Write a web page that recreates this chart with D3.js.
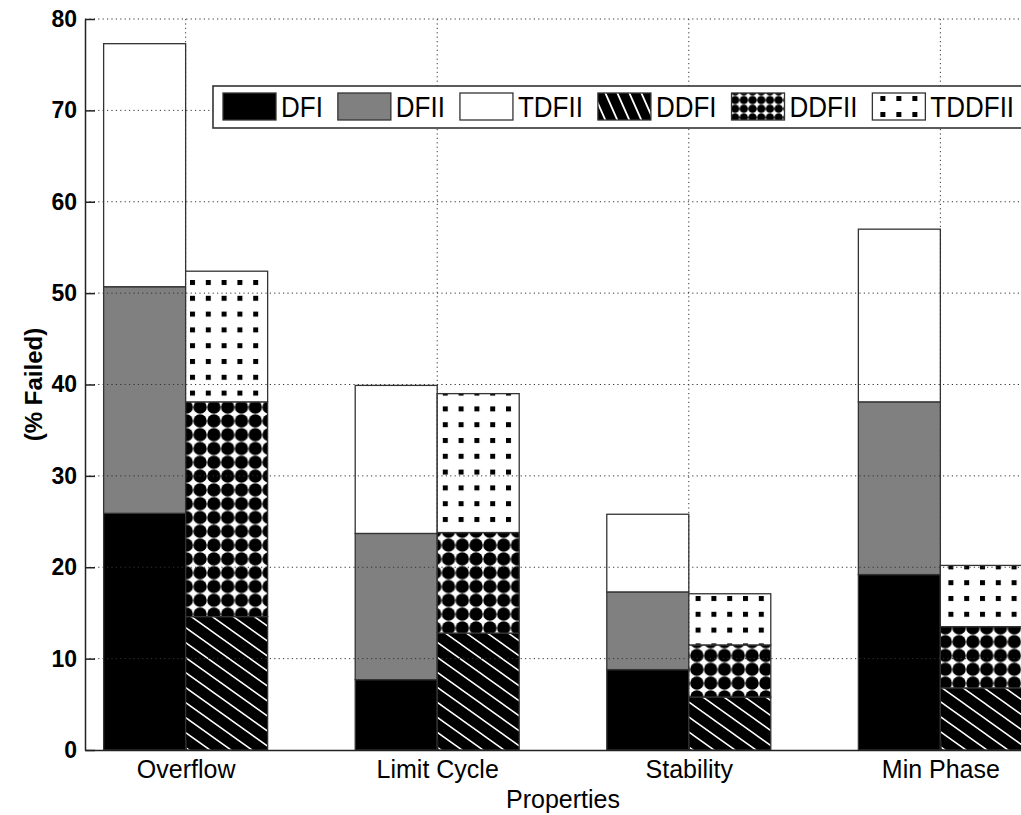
<!DOCTYPE html>
<html>
<head>
<meta charset="utf-8">
<script src="https://cdn.jsdelivr.net/npm/d3@7/dist/d3.min.js"></script>
<style>
  body { margin: 0; background: #fff; }
  svg { display: block; font-family: "Liberation Sans", Arial, Helvetica, sans-serif; }
</style>
</head>
<body>
<svg id="chart" width="1021" height="815"></svg>
<script>
// data
const categories = ["Overflow", "Limit Cycle", "Stability", "Min Phase"]
const seriesNames = ["DFI", "DFII", "TDFII", "DDFI", "DDFII", "TDDFII"]
const dfi    = [25.9, 7.7, 8.8, 19.2]
const dfii   = [24.8, 16.0, 8.5, 18.9]
const tdfii  = [26.6, 16.2, 8.5, 18.9]
const ddfi   = [14.6, 12.8, 5.8, 6.8]
const ddfii  = [23.5, 11.0, 5.7, 6.7]
const tddfii = [14.3, 15.2, 5.6, 6.7]
const yTicks = [0, 10, 20, 30, 40, 50, 60, 70, 80]

const rows = categories.map((c, i) => ({
    cat: c, DFI: dfi[i], DFII: dfii[i], TDFII: tdfii[i],
    DDFI: ddfi[i], DDFII: ddfii[i], TDDFII: tddfii[i]
}))

const svg = d3.select("#chart")
const defs = svg.append("defs")

// hatch patterns
function linePattern(id, w, h, sw) {
    const p = defs.append("pattern").attr("id", id)
        .attr("patternUnits", "userSpaceOnUse").attr("width", w).attr("height", h)
    p.append("rect").attr("width", w).attr("height", h).attr("fill", "#000")
    p.append("path")
        .attr("d", `M${-w},${-h}L${2 * w},${2 * h}M${-w},0L${w},${2 * h}M0,${-h}L${2 * w},${h}`)
        .attr("stroke", "#fff").attr("stroke-width", sw)
    return p
}
function dotPattern(id, s, r) {
    const p = defs.append("pattern").attr("id", id)
        .attr("patternUnits", "userSpaceOnUse").attr("width", s).attr("height", s)
    p.append("rect").attr("width", s).attr("height", s).attr("fill", "#fff")
    p.append("circle").attr("cx", s / 2).attr("cy", s / 2).attr("r", r).attr("fill", "#000")
    // small black joints where neighbouring dots meet
    p.append("rect").attr("x", s / 2 - 1).attr("y", -1).attr("width", 2).attr("height", s + 2).attr("fill", "none")
    return p
}
function squarePattern(id, s, q, ox, oy) {
    const p = defs.append("pattern").attr("id", id)
        .attr("patternUnits", "userSpaceOnUse").attr("width", s).attr("height", s)
        .attr("x", ox).attr("y", oy)
    p.append("rect").attr("width", s).attr("height", s).attr("fill", "#fff")
    p.append("rect").attr("width", q).attr("height", q).attr("fill", "#000")
    return p
}
linePattern("pDDFI", 21, 15, 1.5)
dotPattern("pDDFII", 13.8, 6.7)
squarePattern("pTDDFII", 15.8, 5, 190, 280)
linePattern("lDDFI", 12, 27, 1.8)
dotPattern("lDDFII", 8.7, 4.2)
const legendSquares = squarePattern("lTDDFII", 16, 5, 0, 96)

const fills = {
    DFI: "#000", DFII: "#808080", TDFII: "#fff",
    DDFI: "url(#pDDFI)", DDFII: "url(#pDDFII)", TDDFII: "url(#pTDDFII)"
}
const legendFills = Object.assign({}, fills,
    { DDFI: "url(#lDDFI)", DDFII: "url(#lDDFII)", TDDFII: "url(#lTDDFII)" })

// scales
const x = d3.scalePoint().domain(categories).range([85, 1041]).padding(0.4)
const sub = d3.scaleBand().domain(["single", "double"]).range([-82, 82])
const y = d3.scaleLinear().domain([0, 80]).range([750, 19])

const groups = [
    { name: "single", keys: ["DFI", "DFII", "TDFII"] },
    { name: "double", keys: ["DDFI", "DDFII", "TDDFII"] }
]

const bars = svg.append("g")
groups.forEach(gr => {
    const stacked = d3.stack().keys(gr.keys)(rows)
    stacked.forEach(layer => {
        bars.selectAll(null)
            .data(layer)
            .enter().append("rect")
            .attr("x", d => x(d.data.cat) + sub(gr.name))
            .attr("width", sub.bandwidth())
            .attr("y", d => y(d[1]))
            .attr("height", d => y(d[0]) - y(d[1]))
            .attr("fill", fills[layer.key])
            .attr("stroke", "#333")
            .attr("stroke-width", 1.3)
    })
})

// dotted grid (on top of bars)
const grid = svg.append("g")
    .attr("stroke", "#333").attr("stroke-width", 1).attr("stroke-dasharray", "1.2,3.2")
grid.selectAll(".hg").data(yTicks.slice(1)).enter().append("line")
    .attr("x1", x.range()[0]).attr("x2", x.range()[1])
    .attr("y1", d => y(d)).attr("y2", d => y(d))
grid.selectAll(".vg").data(categories).enter().append("line")
    .attr("x1", d => x(d)).attr("x2", d => x(d))
    .attr("y1", y(80)).attr("y2", y(0))

// axes
const yAxis = svg.append("g").attr("transform", `translate(${x.range()[0]},0)`)
    .call(d3.axisLeft(y).tickValues(yTicks).tickSizeInner(-10).tickSizeOuter(0).tickPadding(8))
yAxis.selectAll("text").style("font-size", "23px").style("font-weight", "bold").attr("fill", "#000")

const xAxis = svg.append("g").attr("transform", `translate(0,${y(0)})`)
    .call(d3.axisBottom(x).tickSizeInner(-10).tickSizeOuter(0).tickPadding(10))
xAxis.selectAll("text").style("font-size", "25px").attr("fill", "#000")

svg.selectAll(".domain, .tick line").attr("stroke", "#222").attr("stroke-width", 1.5)

svg.append("text")
    .attr("transform", `translate(42,${(y(0) + y(80)) / 2}) rotate(-90)`)
    .attr("text-anchor", "middle")
    .style("font-size", "24px").style("font-weight", "bold")
    .text("(% Failed)")

svg.append("text")
    .attr("x", (x.range()[0] + x.range()[1]) / 2).attr("y", 808)
    .attr("text-anchor", "middle")
    .style("font-size", "25px")
    .text("Properties")

// legend
const legend = svg.append("g")
legend.append("rect")
    .attr("x", 213).attr("y", 86).attr("width", 880).attr("height", 42)
    .attr("fill", "#fff").attr("stroke", "#333").attr("stroke-width", 1.6)

let lx = 223
seriesNames.forEach(name => {
    if (name === "TDDFII") legendSquares.attr("x", lx + 8)
    legend.append("rect")
        .attr("x", lx).attr("y", 93).attr("width", 53).attr("height", 27)
        .attr("fill", legendFills[name]).attr("stroke", "#333").attr("stroke-width", 1.3)
    const t = legend.append("text")
        .attr("transform", `translate(${lx + 58},117) scale(1,1.15)`)
        .style("font-size", "26px")
        .text(name)
    lx = lx + 58 + t.node().getComputedTextLength() + 15
})
</script>
</body>
</html>
